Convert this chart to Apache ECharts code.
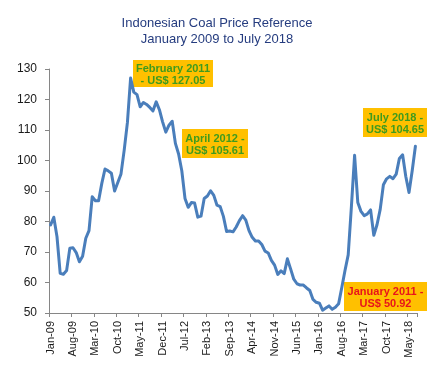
<!DOCTYPE html>
<html>
<head>
<meta charset="utf-8">
<script src="https://cdn.jsdelivr.net/npm/echarts@6/dist/echarts.min.js"></script>
<style>
  html, body { margin: 0; padding: 0; background: #fff; }
  #coalChart { width: 434px; height: 375px; }
</style>
</head>
<body>
<div id="coalChart"></div>
<script>
// monthly reference price (US$/ton), Jan 2009 .. Jul 2018
const monthNames = ['Jan','Feb','Mar','Apr','May','Jun','Jul','Aug','Sep','Oct','Nov','Dec'];
const years = [2009, 2010, 2011, 2012, 2013, 2014, 2015, 2016, 2017, 2018];

const price2009 = [78.9, 81.4, 75.0, 63.0, 62.7, 63.9, 71.2, 71.4, 69.8, 66.8, 68.6, 74.5];
const price2010 = [77.0, 88.1, 86.8, 86.8, 92.5, 97.2, 96.6, 95.8, 90.0, 92.8, 95.6, 103.4];
const price2011 = [112.40, 127.05, 122.42, 121.61, 117.61, 119.03, 118.38, 117.39, 116.28, 119.24, 116.65, 112.67];
const price2012 = [109.29, 111.58, 112.87, 105.61, 102.12, 96.65, 87.56, 84.65, 86.21, 86.04, 81.44, 81.75];
const price2013 = [87.55, 88.35, 90.09, 88.56, 85.33, 84.87, 81.69, 76.70, 76.89, 76.61, 78.19, 80.31];
const price2014 = [81.90, 80.44, 77.01, 74.81, 73.60, 73.64, 72.45, 70.29, 69.69, 67.26, 65.70, 62.65];
const price2015 = [63.84, 62.92, 67.76, 64.48, 61.08, 59.59, 59.16, 59.14, 58.21, 57.39, 54.43, 53.51];
const price2016 = [53.20, 50.92, 51.62, 52.32, 51.20, 51.87, 53.00, 58.37, 63.93, 69.07, 84.89, 101.69];
const price2017 = [86.23, 83.32, 81.90, 82.51, 83.81, 75.46, 78.95, 83.97, 92.03, 93.99, 94.80, 94.04];
const price2018 = [95.54, 100.69, 101.86, 94.75, 89.53, 96.61, 104.65];

const prices = [].concat(price2009, price2010, price2011, price2012, price2013,
                         price2014, price2015, price2016, price2017, price2018);

// category labels like "Jan-09"
const categories = [];
years.forEach(function (y) {
    monthNames.forEach(function (m) {
        if (categories.length < prices.length) {
            categories.push(m + '-' + String(y).slice(2));
        }
    });
});

const yTicks = { min: 50, max: 130, step: 10 };

const lineBlue = '#4a7ebb';
const axisGrey = '#868686';
const labelColor = '#1a1a1a';
const boxOrange = '#ffc000';
const noteGreen = '#3f9b1e';
const noteRed = '#e8141b';

// callout boxes (text only, placed like the original)
function callout(x, y, w, h, text, color) {
    return {
        type: 'group',
        left: x,
        top: y,
        children: [{
            type: 'rect',
            shape: { x: 0, y: 0, width: w, height: h },
            style: { fill: boxOrange }
        }, {
            type: 'text',
            x: w / 2,
            y: h / 2 + 1,
            style: {
                text: text,
                fill: color,
                font: 'bold 11px "Liberation Sans", Arial, sans-serif',
                align: 'center',
                verticalAlign: 'middle',
                lineHeight: 12
            }
        }]
    };
}

let myChart = echarts.init(document.getElementById('coalChart'));
myChart.setOption({
    animation: false,
    title: {
        text: 'Indonesian Coal Price Reference\nJanuary 2009 to July 2018',
        left: 'center',
        top: 10,
        textStyle: {
            color: '#253c7f',
            fontSize: 13,
            fontWeight: 'normal',
            fontFamily: '"Liberation Sans", Arial, sans-serif',
            lineHeight: 16
        }
    },
    grid: {
        left: 49,
        right: 17,
        top: 69,
        bottom: 62
    },
    xAxis: {
        type: 'category',
        data: categories,
        boundaryGap: true,
        axisLine: { lineStyle: { color: axisGrey } },
        axisTick: { show: true, interval: 6, length: 4, lineStyle: { color: axisGrey } },
        axisLabel: {
            interval: 6,
            rotate: 90,
            margin: 8,
            color: labelColor,
            fontSize: 11,
            fontFamily: '"Liberation Sans", Arial, sans-serif'
        },
        splitLine: { show: false }
    },
    yAxis: {
        type: 'value',
        min: yTicks.min,
        max: yTicks.max,
        interval: yTicks.step,
        axisLine: { show: true, lineStyle: { color: axisGrey } },
        axisTick: { show: true, length: 4, lineStyle: { color: axisGrey } },
        axisLabel: {
            margin: 12,
            color: labelColor,
            fontSize: 12,
            fontFamily: '"Liberation Sans", Arial, sans-serif'
        },
        splitLine: { show: false }
    },
    series: [{
        name: 'HBA',
        type: 'line',
        data: prices,
        symbol: 'none',
        lineStyle: { color: lineBlue, width: 3, cap: 'round', join: 'round' }
    }],
    graphic: [
        callout(133, 60, 80, 27, 'February 2011\n- US$ 127.05', noteGreen),
        callout(182, 129, 66, 29, 'April 2012 -\nUS$ 105.61', noteGreen),
        callout(363, 108, 64, 29, 'July 2018 -\nUS$ 104.65', noteGreen),
        callout(344, 282, 83, 29, 'January 2011 -\nUS$ 50.92', noteRed)
    ]
});
</script>
</body>
</html>
